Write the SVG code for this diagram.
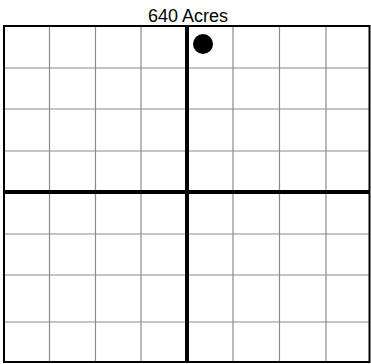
<svg xmlns="http://www.w3.org/2000/svg" width="371" height="364" viewBox="0 0 371 364">
<style>
.grid{stroke:#8a8a8a;stroke-width:1.2;fill:none}
.border{stroke:#000;stroke-width:2;fill:none}
.axis{stroke:#000;stroke-width:4;fill:none}
.title{font-family:"Liberation Sans",Arial,sans-serif;font-size:18px;fill:#000}
</style>
<rect width="371" height="364" fill="#fff"/>
<g id="title"><text class="title" x="188" y="22" text-anchor="middle">640 Acres</text></g>
<g id="grid">
<path class="grid" d="M49.5 26V362M95.5 26V362M141 26V362M233 26V362M279.5 26V362M326 26V362"/>
<path class="grid" d="M4 68H370M4 109H370M4 151H370M4 234H370M4 275H370M4 322H370"/>
</g>
<g id="axes">
<path class="axis" d="M187 26V362M4 192H370"/>
</g>
<g id="border"><rect class="border" x="4" y="26" width="365.5" height="336"/></g>
<g id="marker"><circle cx="203" cy="44" r="10" fill="#000"/></g>
</svg>
